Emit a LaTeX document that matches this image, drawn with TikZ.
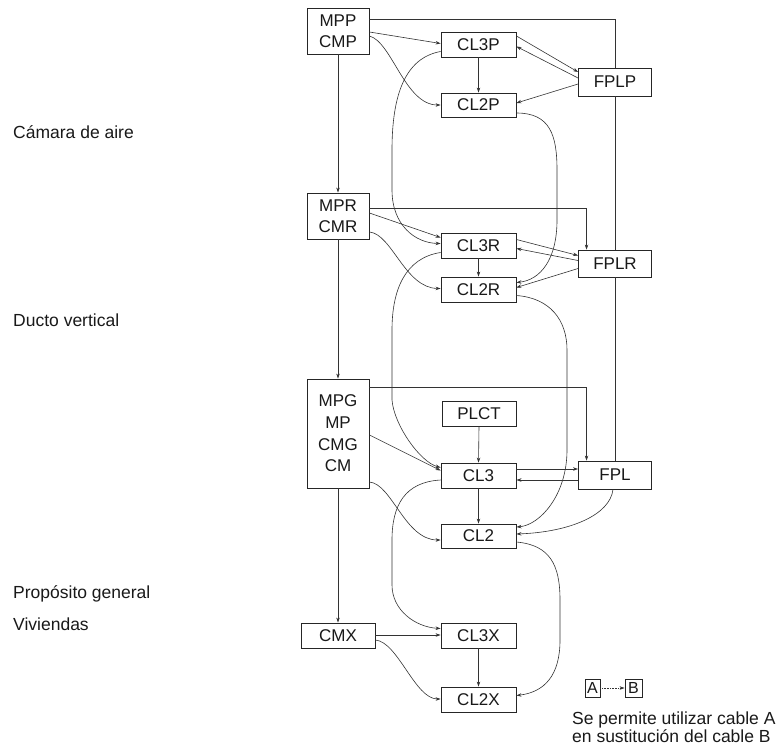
\documentclass[tikz,border=0pt]{standalone}
\usepackage{fontspec}
\setmainfont{Liberation Sans}
\usetikzlibrary{calc,arrows.meta}
\begin{document}
\begin{tikzpicture}[x=1pt,y=-1pt,
  box/.style={draw=black!85, line width=0.9pt, fill=white, inner sep=0pt,
    minimum width=75pt, minimum height=25pt,
    font=\fontsize{17}{21}\selectfont, text=black!90, align=center},
  conn/.style={draw=black!80, line width=0.6pt, -{Stealth[length=5pt,width=3.5pt]}},
  plain/.style={draw=black!80, line width=0.6pt},
  lbl/.style={anchor=base west, inner sep=0pt, font=\fontsize{17.5}{21}\selectfont, text=black!90}]
\useasboundingbox (0,0) rectangle (778,750);

% boxes
\node[box, minimum width=62pt, minimum height=46pt] (mpp) at (338,31) {MPP\\CMP};
\node[box] (cl3p) at (478.5,44.5) {CL3P};
\node[box, minimum height=24pt] (cl2p) at (478.5,105) {CL2P};
\node[box, minimum width=73pt, minimum height=28pt] (fplp) at (615,82) {FPLP};

\node[box, minimum width=62pt, minimum height=46pt] (mpr) at (338,216) {MPR\\CMR};
\node[box] (cl3r) at (478.5,245.5) {CL3R};
\node[box] (cl2r) at (478.5,289.5) {CL2R};
\node[box, minimum width=73pt, minimum height=27pt] (fplr) at (615,263.5) {FPLR};

\node[box, minimum width=62pt, minimum height=109pt, font=\fontsize{17}{21.7}\selectfont] (mpg) at (338,433.5) {MPG\\MP\\CMG\\CM};
\node[box, minimum width=74pt] (plct) at (479,413.5) {PLCT};
\node[box] (cl3) at (478.5,475.5) {CL3};
\node[box, minimum width=73pt, minimum height=28pt] (fpl) at (615,475) {FPL};
\node[box, minimum height=24pt] (cl2) at (478.5,536) {CL2};

\node[box, minimum width=74pt] (cmx) at (338,635.5) {CMX};
\node[box] (cl3x) at (478.5,635.5) {CL3X};
\node[box] (cl2x) at (478.5,699.5) {CL2X};

% legend
\node[box, minimum width=15pt, minimum height=18pt, font=\fontsize{16}{18}\selectfont] (la) at (592.5,688) {A};
\node[box, minimum width=17pt, minimum height=18pt, font=\fontsize{16}{18}\selectfont] (lb) at (633.5,688) {B};
\draw[conn, densely dotted] (la) -- (lb);
\node[lbl] (t1) at (572,724) {Se permite utilizar cable A};
\node[lbl] (t2) at (572,742) {en sustitución del cable B};

% left labels
\node[lbl] (l1) at (13,138) {Cámara de aire};
\node[lbl] (l2) at (13,326) {Ducto vertical};
\node[lbl] (l3) at (13,598) {Propósito general};
\node[lbl] (l4) at (13,630) {Viviendas};

% ---- top section
\draw[plain] ($(mpp.north east)+(0,12)$) -| (fplp.north);
\draw[plain] (fplp.south) -- (fplr.north);
\draw[plain] (fplr.south) -- (fpl.north);
\draw[conn] ($(mpp.east)+(0,1)$) -- ($(cl3p.west)+(0,-1)$);
\draw[conn] ($(mpp.east)+(0,5)$) .. controls (392,42) and (405,105) .. (cl2p.west);
\draw[conn] (cl3p.south) -- (cl2p.north);
\draw[conn] ($(cl3p.east)+(0,-8.5)$) -- ($(fplp.west)+(0,-10)$);
\draw[conn] ($(fplp.west)+(0,-4)$) -- ($(cl3p.east)+(0,2)$);
\draw[conn] ($(fplp.west)+(0,2)$) -- ($(cl2p.east)+(0,-2)$);
\draw[conn] ($(cl3p.west)+(0,7)$) .. controls (405,58) and (392,95) .. (392,150)
  -- (392,190) .. controls (392,225) and (415,243) .. ($(cl3r.west)+(0,-2)$);
\draw[conn] ($(cl2p.east)+(0,8)$) .. controls (550,113) and (557,135) .. (557,170)
  -- (557,220) .. controls (557,260) and (540,280) .. ($(cl2r.east)+(0,-7)$);

% ---- middle section
\draw[conn] (mpp.south) -- (mpr.north);
\draw[conn] (mpr.south) -- (mpg.north);
\draw[conn] ($(mpr.east)+(0,-8)$) -| ($(fplr.north west)+(8.5,0)$);
\draw[conn] ($(mpr.east)+(0,-3)$) -- ($(cl3r.west)+(0,-8)$);
\draw[conn] ($(mpr.east)+(0,16)$) .. controls (392,234) and (405,288) .. ($(cl2r.west)+(0,-1)$);
\draw[conn] (cl3r.south) -- (cl2r.north);
\draw[conn] ($(cl3r.east)+(0,-6)$) -- ($(fplr.west)+(0,-8)$);
\draw[conn] ($(fplr.west)+(0,-3)$) -- ($(cl3r.east)+(0,3)$);
\draw[conn] ($(fplr.west)+(0,5)$) -- ($(cl2r.east)+(0,-2)$);
\draw[conn] ($(cl3r.west)+(0,7)$) .. controls (405,258) and (392,290) .. (392,330)
  -- (392,400) .. controls (394,425) and (420,462) .. ($(cl3.west)+(0,-8)$);
\draw[conn] ($(cl2r.east)+(0,6)$) .. controls (550,298) and (567,320) .. (567,350)
  -- (567,450) .. controls (567,495) and (540,525) .. ($(cl2.east)+(0,-9)$);

% ---- lower section
\draw[conn] ($(mpg.east)+(0,-46.5)$) -| ($(fpl.north west)+(8.5,0)$);
\draw[conn] (plct.south) -- (cl3.north);
\draw[conn] ($(mpg.east)+(0,1.5)$) -- ($(cl3.west)+(0,-5)$);
\draw[conn] ($(mpg.east)+(0,48.5)$) .. controls (392,484) and (405,540) .. ($(cl2.west)+(0,4)$);
\draw[conn] ($(cl3.east)+(0,-6.5)$) -- ($(fpl.west)+(0,-6)$);
\draw[conn] ($(fpl.west)+(0,5)$) -- ($(cl3.east)+(0,4.5)$);
\draw[conn] (cl3.south) -- (cl2.north);
\draw[conn] ($(fpl.south)+(-2,0)$) .. controls (610,515) and (570,532) .. ($(cl2.east)+(0,-2)$);
\draw[conn] ($(cl3.west)+(0,4.5)$) .. controls (405,482) and (392,505) .. (392,540)
  -- (392,585) .. controls (392,610) and (415,627) .. ($(cl3x.west)+(0,-7)$);
\draw[conn] ($(cl2.east)+(0,6)$) .. controls (550,545) and (560,565) .. (560,600)
  -- (560,640) .. controls (560,675) and (545,692) .. ($(cl2x.east)+(0,-4)$);

% ---- bottom section
\draw[conn] (mpg.south) -- (cmx.north);
\draw[conn] ($(cmx.east)+(0,-0.5)$) -- ($(cl3x.west)+(0,-0.5)$);
\draw[conn] ($(cmx.east)+(0,4.5)$) .. controls (398,642) and (415,699) .. ($(cl2x.west)+(0,-0.5)$);
\draw[conn] (cl3x.south) -- (cl2x.north);
\end{tikzpicture}
\end{document}
